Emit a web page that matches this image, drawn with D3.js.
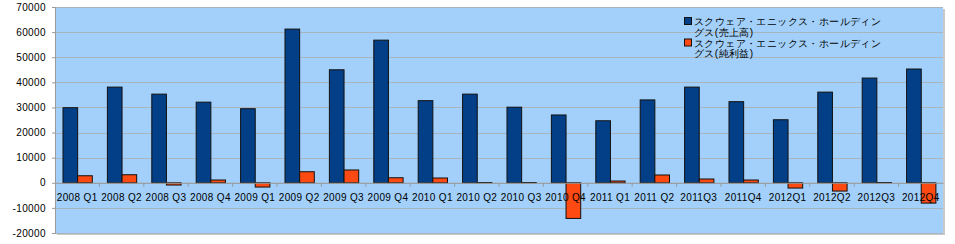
<!DOCTYPE html>
<html>
<head>
<meta charset="utf-8">
<script src="https://cdn.jsdelivr.net/npm/d3@7"></script>
<style>
  body { margin: 0; background: #fff; }
  text { font-family: "Liberation Sans", Arial, sans-serif; }
</style>
</head>
<body>
<div id="grafico"></div>
<script>
const width = 955;
const height = 244;

// datos
const trimestres = ["2008 Q1", "2008 Q2", "2008 Q3", "2008 Q4", "2009 Q1", "2009 Q2", "2009 Q3", "2009 Q4",
  "2010 Q1", "2010 Q2", "2010 Q3", "2010 Q4", "2011 Q1", "2011 Q2", "2011Q3", "2011Q4",
  "2012Q1", "2012Q2", "2012Q3", "2012Q4"];
const ventas = [29900, 38100, 35300, 32100, 29500, 61200, 45000, 56800, 32700, 35300,
  30100, 27000, 24700, 33000, 38100, 32300, 25100, 36100, 41700, 45300];
const beneficio = [2800, 3200, -900, 1100, -1700, 4400, 5100, 2000, 1900, 100,
  100, -14200, 700, 3100, 1500, 1100, -2100, -3300, 100, -8100];
const ticksY = [70000, 60000, 50000, 40000, 30000, 20000, 10000, 0, -10000, -20000];
const nombresSerie = ["スクウェア・エニックス・ホールディングス(売上高)", "スクウェア・エニックス・ホールディングス(純利益)"];
const coloresSerie = ["#033f86", "#fc4a12"];

const margin = {top: 7, right: 12, bottom: 11, left: 55};
const innerW = width - margin.left - margin.right;
const innerH = height - margin.top - margin.bottom;

const svg = d3.select("#grafico").append("svg")
  .attr("width", width)
  .attr("height", height);

const g = svg.append("g").attr("transform", `translate(${margin.left}, ${margin.top})`);

const x = d3.scaleBand().domain(trimestres).range([0, innerW]);
const xSerie = d3.scaleBand().domain([0, 1]).range([x.bandwidth() * 0.18, x.bandwidth() * 0.84]);
const y = d3.scaleLinear().domain([-20000, 70000]).range([innerH, 0]);

// sombra y fondo
g.append("rect")
  .attr("x", 2).attr("y", 2)
  .attr("width", innerW).attr("height", innerH)
  .attr("fill", "#c9c9c9");
g.append("rect")
  .attr("width", innerW).attr("height", innerH)
  .attr("fill", "#a2d0fa");

// rejilla
g.append("g")
  .selectAll("line")
  .data(ticksY)
  .join("line")
  .attr("x1", 0).attr("x2", innerW)
  .attr("y1", d => Math.round(y(d)) + 0.5).attr("y2", d => Math.round(y(d)) + 0.5)
  .attr("stroke", "#a9b4be")
  .attr("stroke-width", 1);

// eje Y
const ejeY = g.append("g")
  .call(d3.axisLeft(y).tickValues(ticksY).tickSize(3).tickPadding(6).tickFormat(d => d));
ejeY.select(".domain").attr("stroke", "#9a9a9a");
ejeY.selectAll(".tick line").attr("stroke", "#9a9a9a");
ejeY.selectAll("text").attr("font-size", 10).attr("fill", "#000").attr("letter-spacing", "0.4px");

// barras
const grupos = g.append("g")
  .selectAll("g")
  .data(trimestres.map((t, i) => ({t, valores: [ventas[i], beneficio[i]]})))
  .join("g")
  .attr("transform", d => `translate(${x(d.t)}, 0)`);

grupos.selectAll("rect")
  .data(d => d.valores.map((v, s) => ({v, s})))
  .join("rect")
  .attr("x", d => xSerie(d.s))
  .attr("width", xSerie.bandwidth())
  .attr("y", d => y(Math.max(0, d.v)))
  .attr("height", d => Math.abs(y(d.v) - y(0)))
  .attr("fill", d => coloresSerie[d.s])
  .attr("stroke", "#111")
  .attr("stroke-width", 1);

// eje X en el cero
const ejeX = g.append("g")
  .attr("transform", `translate(0, ${y(0)})`)
  .call(d3.axisBottom(x).tickSize(0).tickPadding(11));
ejeX.select(".domain").attr("stroke", "#9a9a9a");
ejeX.selectAll("text").attr("font-size", 10).attr("fill", "#000").attr("letter-spacing", "0.35px");
ejeX.append("g")
  .selectAll("line")
  .data(trimestres.slice(1))
  .join("line")
  .attr("x1", d => x(d)).attr("x2", d => x(d))
  .attr("y1", 0).attr("y2", 4)
  .attr("stroke", "#9a9a9a");

// leyenda
const leyenda = g.append("g").attr("transform", `translate(${684 - margin.left}, ${21 - margin.top})`);
nombresSerie.forEach((nombre, i) => {
  const item = leyenda.append("g").attr("transform", `translate(0, ${i * 21.5})`);
  item.append("rect")
    .attr("x", 0.5).attr("y", -3.5)
    .attr("width", 7).attr("height", 7)
    .attr("fill", coloresSerie[i])
    .attr("stroke", "#111");
  const partes = [nombre.slice(0, 18), nombre.slice(18)];
  partes.forEach((p, j) => {
    item.append("text")
      .attr("x", 10).attr("y", j * 10.5 + 4)
      .attr("font-size", 10)
      .attr("letter-spacing", "0.4px")
      .attr("font-family", "'Noto Sans CJK JP', sans-serif")
      .attr("fill", "#000")
      .text(p);
  });
});
</script>
</body>
</html>
